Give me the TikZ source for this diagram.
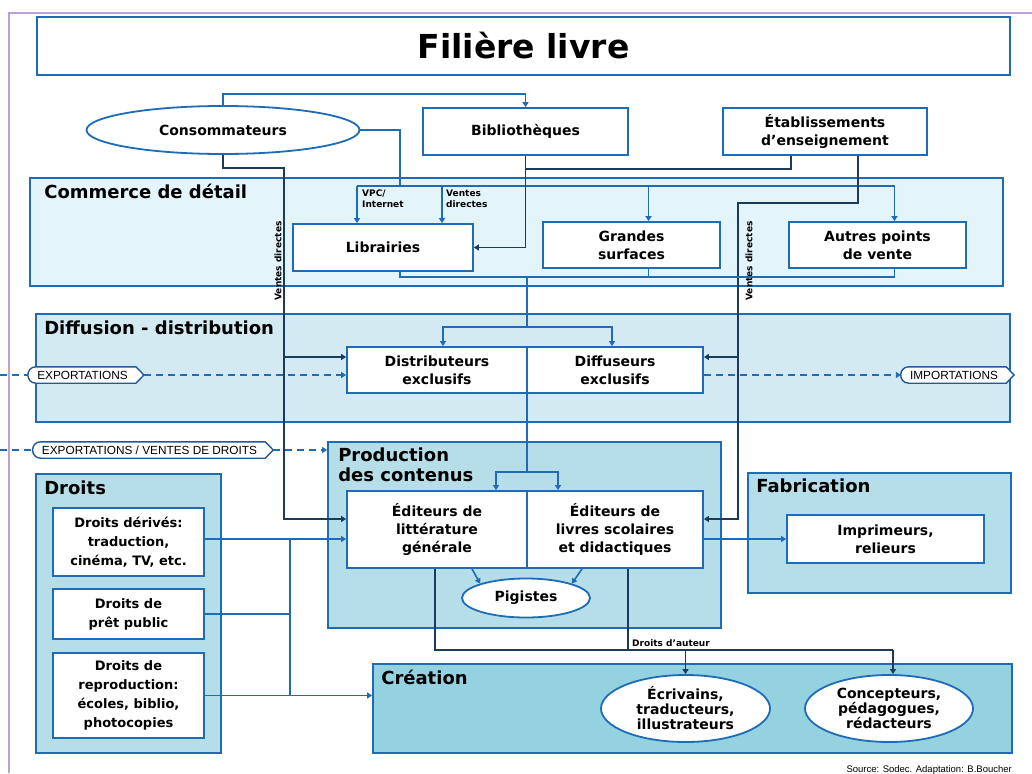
\documentclass[tikz,border=0pt]{standalone}
\usepackage{fontspec}
\setmainfont{DejaVu Sans}
\newfontfamily\tagfont{Liberation Sans}
\usetikzlibrary{shapes.geometric,arrows.meta}

\definecolor{lineblue}{HTML}{1E6BB8}
\definecolor{navyline}{HTML}{1A3B5E}
\definecolor{retailfill}{HTML}{E4F4FB}
\definecolor{difffill}{HTML}{D3EAF2}
\definecolor{prodfill}{HTML}{B5DEE9}
\definecolor{creafill}{HTML}{95D2E0}
\definecolor{tagblue}{HTML}{1F5A9A}
\definecolor{framepurple}{HTML}{B9A3D1}

\pgfdeclarelayer{foreground}
\pgfsetlayers{main,foreground}

\begin{document}
\begin{tikzpicture}[
    x=1pt, y=-1pt,
    >={Triangle[width=6pt,length=5pt]},
    box/.style={rectangle, draw=lineblue, line width=1.8pt, fill=white, inner sep=0pt,
      align=center, font=\fontsize{14}{18}\selectfont\bfseries},
    rightsbox/.style={box, font=\fontsize{13}{19}\selectfont\bfseries},
    oval/.style={ellipse, draw=lineblue, line width=1.8pt, fill=white, inner sep=0pt,
      align=center, font=\fontsize{14}{15}\selectfont\bfseries},
    group/.style={rectangle, draw=lineblue, line width=1.8pt, inner sep=0pt},
    grouptitle/.style={anchor=north west, inner sep=0pt, align=left,
      font=\fontsize{18}{20}\selectfont\bfseries},
    link/.style={draw=lineblue, line width=1.6pt},
    darklink/.style={draw=navyline, line width=1.6pt},
    dashlink/.style={draw=lineblue, line width=1.6pt, dash pattern=on 7pt off 5pt},
    tag/.style={inner sep=0pt, minimum height=16pt, font=\tagfont\fontsize{11.8}{12}\selectfont},
    tagline/.style={draw=tagblue, line width=1.4pt, fill=white},
    small/.style={inner sep=0pt, align=left, font=\fontsize{9}{10.5}\selectfont\bfseries}
  ]
  \useasboundingbox (0,0) rectangle (1032,773);

  % Frame
  \draw[framepurple, line width=2pt] (9,773) -- (9,13.5) -- (1032,13.5);

  % Title
  \node[box, minimum width=973pt, minimum height=58pt,
    font=\fontsize{33}{36}\selectfont\bfseries] (title) at (523.5,46) {Filière livre};

  % Consumers and institutions
  \node[oval, minimum width=273pt, minimum height=48pt] (cons) at (223,130) {Consommateurs};
  \node[box, minimum width=205pt, minimum height=47pt] (bib) at (525.5,131.5) {Bibliothèques};
  \node[box, minimum width=204pt, minimum height=47pt] (etab) at (825,131.5) {Établissements\\d’enseignement};

  % Groups
  \node[group, fill=retailfill, minimum width=973pt, minimum height=108pt] (commerce) at (516.5,232) {};
  \node[group, fill=difffill, minimum width=974pt, minimum height=108pt] (diffusion) at (523,368) {};
  \node[group, fill=prodfill, minimum width=393pt, minimum height=186pt] (production) at (524.5,535) {};
  \node[group, fill=prodfill, minimum width=185pt, minimum height=279pt] (droits) at (128.5,613.5) {};
  \node[group, fill=prodfill, minimum width=263pt, minimum height=120pt] (fabrication) at (879.5,533) {};
  \node[group, fill=creafill, minimum width=639pt, minimum height=89pt] (creation) at (692.5,708.5) {};

  \node[grouptitle] (commercetitle) at ([xshift=15pt,yshift=-7pt]commerce.north west) {Commerce de détail};
  \node[grouptitle] (diffusiontitle) at ([xshift=9pt,yshift=-8pt]diffusion.north west) {Diffusion - distribution};
  \node[grouptitle] (productiontitle) at ([xshift=11pt,yshift=-7pt]production.north west) {Production\\des contenus};
  \node[grouptitle] (droitstitle) at ([xshift=9pt,yshift=-8pt]droits.north west) {Droits};
  \node[grouptitle] (fabricationtitle) at ([xshift=9pt,yshift=-7pt]fabrication.north west) {Fabrication};
  \node[grouptitle] (creationtitle) at ([xshift=9pt,yshift=-7pt]creation.north west) {Création};

  % Retail
  \node[box, minimum width=180pt, minimum height=47pt] (lib) at (383,247.5) {Librairies};
  \node[box, minimum width=177pt, minimum height=46pt] (grandes) at (631.5,245) {Grandes\\surfaces};
  \node[box, minimum width=177pt, minimum height=46pt] (autres) at (877.5,245) {Autres points\\de vente};

  % Distribution
  \node[box, minimum width=180pt, minimum height=46pt] (distrib) at (437,370) {Distributeurs\\exclusifs};
  \node[box, minimum width=176pt, minimum height=46pt] (diffuseurs) at (615,370) {Diffuseurs\\exclusifs};

  % Production
  \node[box, minimum width=180pt, minimum height=77pt] (editlit) at (437,529.5) {Éditeurs de\\littérature\\générale};
  \node[box, minimum width=176pt, minimum height=77pt] (editsco) at (615,529.5) {Éditeurs de\\livres scolaires\\et didactiques};
  \node[oval, minimum width=128pt, minimum height=39pt] (pig) at (526,598) {Pigistes};

  % Rights
  \node[rightsbox, minimum width=151pt, minimum height=68pt] (derives) at (128.5,542) {Droits dérivés:\\traduction,\\cinéma, TV, etc.};
  \node[rightsbox, minimum width=151pt, minimum height=50pt] (pret) at (128.5,614) {Droits de\\prêt public};
  \node[rightsbox, minimum width=151pt, minimum height=85pt] (repro) at (128.5,695.5) {Droits de\\reproduction:\\écoles, biblio,\\photocopies};

  % Printing and creation
  \node[box, minimum width=197pt, minimum height=48pt] (imprim) at (885.5,539) {Imprimeurs,\\relieurs};
  \node[oval, minimum width=169pt, minimum height=67pt] (ecriv) at (685.5,708.5) {Écrivains,\\traducteurs,\\illustrateurs};
  \node[oval, minimum width=168pt, minimum height=67pt] (concept) at (889,708.5) {Concepteurs,\\pédagogues,\\rédacteurs};

  % Consommateurs -> Bibliothèques
  \draw[link,->] (cons.north) -- ++(0,-11) -| (bib.north);

  % Consommateurs -> retail
  \coordinate (rail) at (400,186);
  \draw[link] (cons.east) -| (rail);
  \foreach \tgt/\dx/\nm in {lib/-26/vpc, lib/59/vd, grandes/17/gs, autres/17/apv} {
    \coordinate (\nm) at ([xshift=\dx pt]\tgt.north);
    \draw[link,->] (\nm |- rail) -- (\nm);
  }
  \draw[link] (vpc |- rail) -- (apv |- rail);
  \node[small, anchor=north west] (vpclabel) at (362,190) {VPC/\\Internet};
  \node[small, anchor=north west] (vdlabel) at (446,190) {Ventes\\directes};

  % Bibliothèques and Établissements -> Librairies
  \draw[darklink,->] (bib.south) |- (lib.east);
  \coordinate (etabL) at ([xshift=-34pt]etab.south);
  \draw[darklink] (etabL) -- ++(0,13) -| (bib.south);

  % Ventes directes, right
  \coordinate (etabR) at ([xshift=33pt]etab.south);
  \coordinate (vdR) at (738,203);
  \coordinate (diffin) at ([yshift=13pt]diffuseurs.east);
  \draw[darklink,->] (etabR) |- (vdR) |- ([yshift=10.5pt]editsco.east);
  \draw[darklink,->] (vdR |- diffin) -- (diffin);
  \node[small, rotate=90] (vdRlabel) at (749,261) {Ventes directes};

  % Ventes directes, left
  \coordinate (vdL) at (284,168);
  \coordinate (distin) at ([yshift=13pt]distrib.west);
  \draw[darklink,->] (cons.south) |- (vdL) |- ([yshift=10.5pt]editlit.west);
  \draw[darklink,->] (vdL |- distin) -- (distin);
  \node[small, rotate=90] (vdLlabel) at (278,261) {Ventes directes};

  % Retail -> distribution
  \coordinate (retail) at (527,277);
  \coordinate (hub) at (527,327);
  \foreach \src in {lib, grandes, autres}
    \draw[link] ([xshift=17pt]\src.south) |- (retail);
  \draw[link] (retail) -- (hub);
  \draw[link,->] (hub) -| ([xshift=6pt]distrib.north);
  \draw[link,->] (hub) -| ([xshift=-3pt]diffuseurs.north);

  % Distribution -> production
  \coordinate (prodhub) at (527,472);
  \draw[link] (prodhub |- distrib.south) -- (prodhub);
  \draw[link,->] (prodhub) -| ([xshift=59pt]editlit.north);
  \draw[link,->] (prodhub) -| ([xshift=-57pt]editsco.north);

  % Pigistes and printing
  \draw[link,->] ([xshift=35pt]editlit.south) -- (pig.north west);
  \draw[link,->] ([xshift=-33pt]editsco.south) -- (pig.north east);
  \draw[link,->] (editsco.east |- imprim.west) -- (imprim.west);

  % Rights
  \coordinate (rights) at (290,539);
  \draw[link,->] (derives.east |- rights) -- (editlit.west |- rights);
  \draw[link] (pret.east) -- (pret.east -| rights);
  \draw[link,->] (repro.east) -- (repro.east -| creation.west);
  \draw[link] (rights) -- (rights |- repro.east);

  % Droits d'auteur
  \coordinate (royal) at (893,650);
  \draw[darklink] ([xshift=-2pt]editlit.south) |- (royal);
  \draw[darklink] ([xshift=13pt]editsco.south) -- ++(0,82);
  \draw[darklink,->] (ecriv.north |- royal) -- (ecriv.north);
  \draw[darklink,->] (royal) -- (royal |- concept.north);
  \node[small, anchor=south west] (auteur) at (632,647) {Droits d'auteur};

  % Exports and imports
  \begin{pgfonlayer}{foreground}
    \node[tag] (exp) at (82.5,375) {EXPORTATIONS};
    \node[tag] (imp) at (954,375) {IMPORTATIONS};
    \node[tag] (expdr) at (149.5,450) {EXPORTATIONS / VENTES DE DROITS};
  \end{pgfonlayer}
  \foreach \t in {exp, imp, expdr}
    \draw[tagline] ([xshift=-1pt]\t.north west) -- ([xshift=8pt]\t.north east)
      -- ([xshift=16pt]\t.east) -- ([xshift=8pt]\t.south east)
      -- ([xshift=-1pt]\t.south west) to[out=180, in=180, looseness=1.7] ([xshift=-1pt]\t.north west) -- cycle;
  \coordinate (edgeA) at (0,375);
  \coordinate (edgeB) at (0,450);
  \draw[dashlink] (edgeA) -- ([xshift=-9pt]exp.west);
  \draw[dashlink,->] ([xshift=16pt]exp.east) -- (exp.east -| distrib.west);
  \draw[dashlink,->] (diffuseurs.east |- imp.west) -- ([xshift=-9pt]imp.west);
  \draw[dashlink] (edgeB) -- ([xshift=-9pt]expdr.west);
  \draw[dashlink,->] ([xshift=16pt]expdr.east) -- (expdr.east -| production.west);

  % Source
  \node[anchor=north east, inner sep=0pt, font=\tagfont\fontsize{9.5}{11}\selectfont] (source) at (1012,765) {Source: Sodec. Adaptation: B.Boucher};

\end{tikzpicture}
\end{document}
